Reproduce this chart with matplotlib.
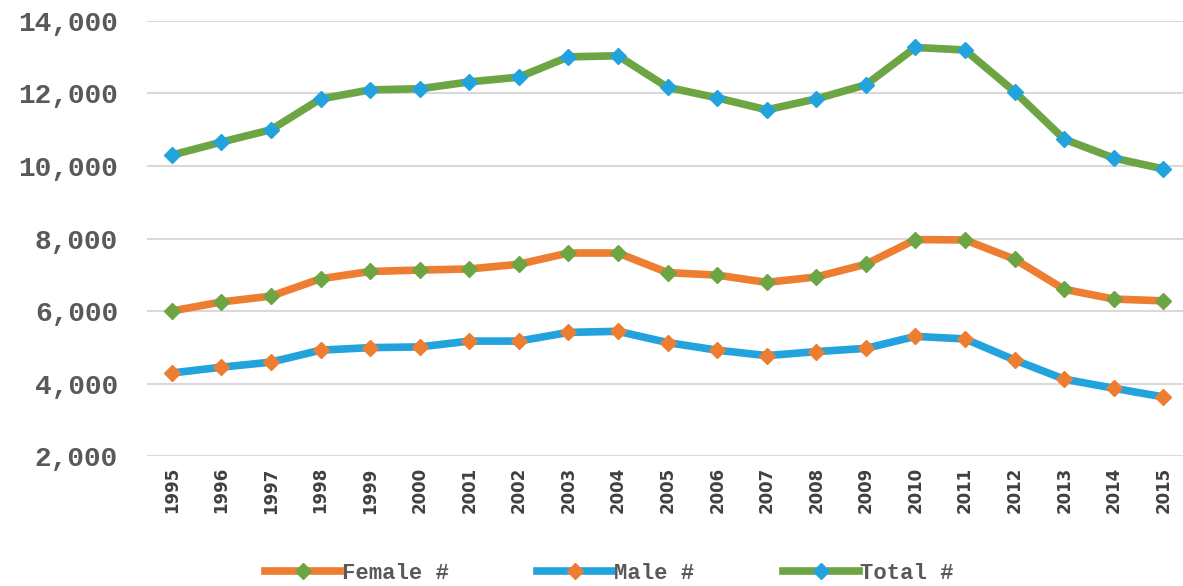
import matplotlib
matplotlib.use("Agg")
import matplotlib.pyplot as plt

years = [str(y) for y in range(1995, 2016)]
female = [6000, 6250, 6410, 6890, 7090, 7130, 7160, 7290, 7600, 7600,
          7060, 6990, 6790, 6940, 7290, 7970, 7960, 7430, 6600, 6330, 6280]
male = [4290, 4450, 4590, 4920, 4990, 5010, 5170, 5170, 5410, 5440,
        5130, 4920, 4770, 4880, 4970, 5300, 5230, 4650, 4120, 3870, 3630]
total = [10300, 10660, 11000, 11850, 12100, 12130, 12320, 12450, 13010, 13040,
         12170, 11880, 11550, 11850, 12240, 13270, 13200, 12050, 10740, 10220, 9920]

orange = "#ED7D31"
blue = "#22A3DD"
green = "#6DA544"
mono = "Liberation Mono"

fig = plt.figure(figsize=(11.83, 5.86), dpi=100)
ax = fig.add_axes([0.1243, 0.2218, 0.880, 0.7424])

x = range(len(years))
ax.plot(x, female, color=orange, lw=5.5, marker="D", ms=8,
        mfc=green, mec=green, label="Female #", zorder=3)
ax.plot(x, male, color=blue, lw=5.5, marker="D", ms=8,
        mfc=orange, mec=orange, label="Male #", zorder=3)
ax.plot(x, total, color=green, lw=5.5, marker="D", ms=8,
        mfc=blue, mec=blue, label="Total #", zorder=3)

ax.set_xlim(-0.5, 20.5)
ax.set_ylim(2000, 14000)
ax.set_yticks(range(2000, 14001, 2000))
ax.set_yticklabels([f"{v:,}" for v in range(2000, 14001, 2000)],
                   fontfamily=mono, fontsize=20, fontweight="bold", color="#595959")
ax.set_xticks(list(x))
ax.set_xticklabels(years, rotation=90, fontsize=12, fontweight="bold", color="#404040")
ax.tick_params(axis="y", length=0, pad=21)
ax.tick_params(axis="x", length=0, pad=8)
ax.grid(axis="y", color="#D9D9D9", lw=1.5)
ax.set_axisbelow(True)
for s in ax.spines.values():
    s.set_visible(False)

fig.legend(loc="lower center", bbox_to_anchor=(0.515, -0.03), ncol=3, frameon=False,
           prop={"family": mono, "size": 16, "weight": "bold"},
           handlelength=3.4, handletextpad=0.05, columnspacing=4.0, numpoints=1)
for t in fig.legends[0].get_texts():
    t.set_color("#595959")

fig.savefig("out.png", dpi=100)
